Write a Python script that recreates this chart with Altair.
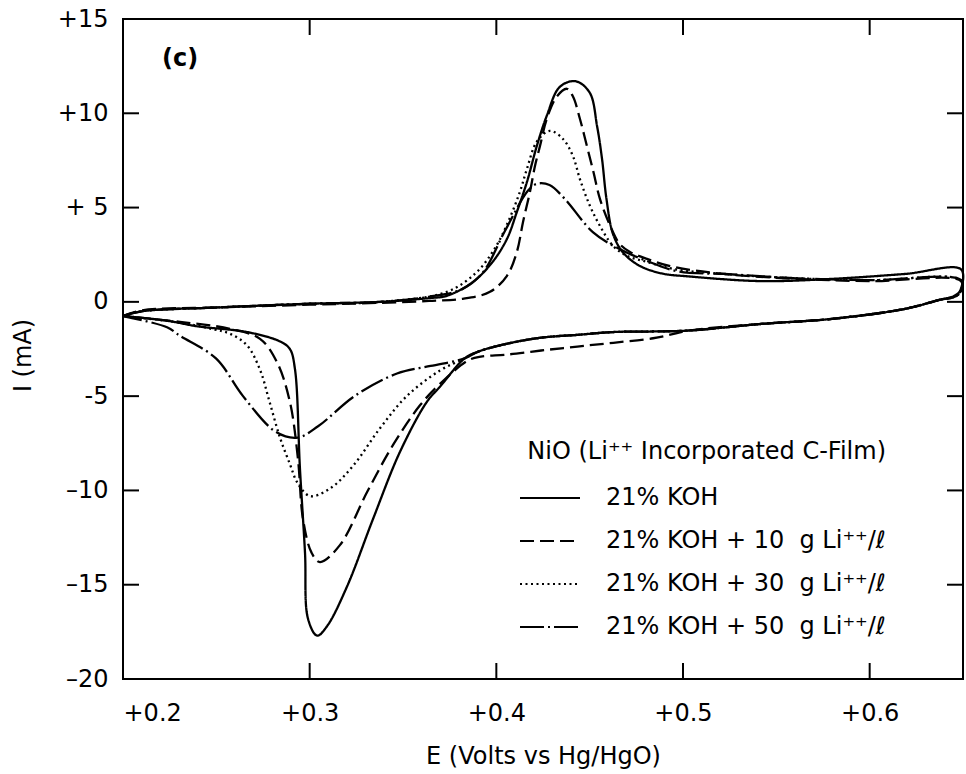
import altair as alt
import pandas as pd

NB = "\u00a0"
SERIES = [
    "21% KOH",
    "21% KOH + 10" + NB + NB + "g Li\u207a\u207a/\u2113",
    "21% KOH + 30" + NB + NB + "g Li\u207a\u207a/\u2113",
    "21% KOH + 50" + NB + NB + "g Li\u207a\u207a/\u2113",
]

# ---- 21% KOH (solid) ----
koh_up_E = [0.200, 0.210, 0.250, 0.300, 0.338, 0.364, 0.3735, 0.3875, 0.398, 0.4057, 0.411, 0.4164,
            0.4217, 0.427, 0.434, 0.4425, 0.450, 0.454, 0.4566, 0.459, 0.4625, 0.468, 0.477, 0.489,
            0.503, 0.542, 0.580, 0.619, 0.649]
koh_up_I = [-0.75, -0.5, -0.3, -0.1, 0.0, 0.2, 0.32, 1.06, 2.12, 3.34, 4.77, 6.36,
            8.27, 9.86, 11.4, 11.7, 11.1, 9.3, 7.6, 5.46, 3.6, 2.6, 1.9, 1.5,
            1.35, 1.1, 1.22, 1.48, 1.72]
koh_dn_E = [0.6485, 0.645, 0.638, 0.619, 0.580, 0.542, 0.503, 0.484, 0.4627, 0.4434, 0.424, 0.4053,
            0.390, 0.383, 0.3698, 0.3628, 0.3484, 0.334, 0.320, 0.3093, 0.304, 0.2991, 0.2975,
            0.2948, 0.2921, 0.2894, 0.2841, 0.2664, 0.240, 0.2236, 0.200]
koh_dn_I = [0.6, 0.3, 0.12, -0.37, -0.9, -1.17, -1.52, -1.57, -1.6, -1.75, -1.9, -2.23,
            -2.65, -3.0, -4.5, -5.3, -7.95, -11.5, -15.1, -17.2, -17.7, -16.8, -13.3,
            -8.85, -3.55, -2.5, -2.1, -1.6, -1.3, -1.0, -0.75]

# ---- + 10 g Li (dashed) ----
li10_up_E = [0.200, 0.210, 0.250, 0.300, 0.338, 0.364, 0.382, 0.3966, 0.4057, 0.411, 0.4143, 0.418,
             0.4207, 0.4234, 0.427, 0.4325, 0.4378, 0.441, 0.4448, 0.4485, 0.452, 0.4555, 0.461,
             0.466, 0.4716, 0.4807, 0.4946, 0.522, 0.561, 0.600, 0.649]
li10_up_I = [-0.75, -0.45, -0.3, -0.15, -0.05, 0.05, 0.16, 0.53, 1.38, 2.65, 4.24, 5.83,
             7.2, 8.27, 9.7, 10.9, 11.3, 10.9, 9.7, 8.27, 6.9, 5.46, 4.03,
             3.08, 2.65, 2.28, 1.86, 1.48, 1.22, 1.1, 1.1]
li10_dn_E = [0.6485, 0.645, 0.638, 0.619, 0.580, 0.542, 0.503, 0.495, 0.484, 0.4627, 0.4434, 0.424,
             0.4053, 0.3917, 0.385, 0.3698, 0.359, 0.3446, 0.3307, 0.3162, 0.3055, 0.301, 0.2964,
             0.2937, 0.2894, 0.2825, 0.2734, 0.2573, 0.2305, 0.200]
li10_dn_I = [0.5, 0.25, 0.12, -0.37, -0.9, -1.17, -1.52, -1.7, -1.93, -2.17, -2.37, -2.58,
             -2.8, -2.9, -3.1, -4.35, -5.5, -7.6, -10.1, -12.9, -13.8, -13.3, -11.5,
             -8.3, -5.3, -3.2, -1.96, -1.43, -1.06, -0.75]

# ---- + 30 g Li (dotted) ----
li30_up_E = [0.200, 0.210, 0.250, 0.300, 0.338, 0.3735, 0.3896, 0.400, 0.407, 0.4126, 0.4164, 0.4217,
             0.4287, 0.4357, 0.441, 0.4448, 0.4501, 0.4555, 0.4625, 0.470, 0.4807, 0.4946, 0.522,
             0.561, 0.600, 0.649]
li30_up_I = [-0.75, -0.5, -0.3, -0.1, 0.0, 0.53, 1.59, 2.97, 4.4, 5.83, 7.05, 8.5,
             9.07, 8.64, 7.74, 6.5, 5.1, 4.03, 2.97, 2.44, 2.12, 1.75, 1.48,
             1.25, 1.15, 1.15]
li30_dn_E = [0.6485, 0.645, 0.638, 0.619, 0.580, 0.542, 0.503, 0.484, 0.4627, 0.4434, 0.424, 0.4053,
             0.390, 0.383, 0.3698, 0.352, 0.3377, 0.3232, 0.3109, 0.3002, 0.2935, 0.2894, 0.2841,
             0.2785, 0.2734, 0.2664, 0.2575, 0.2482, 0.2305, 0.200]
li30_dn_I = [0.5, 0.25, 0.12, -0.37, -0.9, -1.17, -1.52, -1.57, -1.6, -1.75, -1.9, -2.23,
             -2.65, -3.0, -3.64, -5.0, -6.7, -8.7, -9.9, -10.3, -9.6, -8.6, -7.2,
             -5.3, -3.6, -2.3, -1.7, -1.45, -1.1, -0.75]

# ---- + 50 g Li (dash-dot) ----
li50_up_E = [0.200, 0.210, 0.250, 0.300, 0.338, 0.364, 0.382, 0.393, 0.4046, 0.417, 0.4216, 0.4285,
             0.4367, 0.4517, 0.466, 0.4807, 0.498, 0.522, 0.561, 0.600, 0.649]
li50_up_I = [-0.75, -0.5, -0.3, -0.1, 0.0, 0.27, 0.69, 1.59, 3.76, 5.9, 6.26, 6.2,
             5.46, 3.7, 2.8, 2.17, 1.6, 1.48, 1.25, 1.15, 1.15]
li50_dn_E = [0.6485, 0.645, 0.638, 0.619, 0.580, 0.542, 0.503, 0.484, 0.4627, 0.4434, 0.424, 0.4053,
             0.390, 0.383, 0.3648, 0.3468, 0.324, 0.3045, 0.2935, 0.282, 0.2643, 0.2498, 0.2305,
             0.2236, 0.200]
li50_dn_I = [0.5, 0.25, 0.12, -0.37, -0.9, -1.17, -1.52, -1.57, -1.6, -1.75, -1.9, -2.23,
             -2.65, -3.0, -3.4, -3.8, -5.0, -6.6, -7.2, -6.9, -5.0, -3.0, -1.8,
             -1.35, -0.75]

X_TICKS = [0.2, 0.3, 0.4, 0.5, 0.6]
Y_TICKS = [-20, -15, -10, -5, 0, 5, 10, 15]
X_INNER_TICKS = [0.3, 0.4, 0.5, 0.6]
Y_INNER_TICKS = [-15, -10, -5, 0, 5, 10]

curves = [
    (SERIES[0], koh_up_E + koh_dn_E, koh_up_I + koh_dn_I),
    (SERIES[1], li10_up_E + li10_dn_E, li10_up_I + li10_dn_I),
    (SERIES[2], li30_up_E + li30_dn_E, li30_up_I + li30_dn_I),
    (SERIES[3], li50_up_E + li50_dn_E, li50_up_I + li50_dn_I),
]
rows = []
for name, es, is_ in curves:
    for k, (e, i) in enumerate(zip(es, is_)):
        rows.append({"series": name, "idx": k, "E": e, "I": i})
df = pd.DataFrame(rows)

FONT = "DejaVu Sans"
FS = 24
W, H = 840, 660

xscale = alt.Scale(domain=[0.2, 0.65], nice=False, zero=False)
yscale = alt.Scale(domain=[-20, 15], nice=False, zero=False)

x_axis = alt.Axis(
    values=X_TICKS, labelExpr="'+' + format(datum.value, '.1f')",
    title="E (Volts vs Hg/HgO)", grid=False, domain=False, ticks=False,
    labelFont=FONT, labelFontSize=FS, labelColor="black", labelPadding=22,
    titleFont=FONT, titleFontSize=FS, titleFontWeight="normal", titleColor="black",
    titleX=420, titleY=84, titleBaseline="alphabetic", titleAnchor="middle",
)
y_axis = alt.Axis(
    values=Y_TICKS,
    labelExpr="datum.value == 5 ? '+ 5' : (datum.value > 0 ? '+' + datum.value : (datum.value == -5 ? '-5' : (datum.value < 0 ? '\u2013' + abs(datum.value) : '0')))",
    title="I (mA)", grid=False, domain=False, ticks=False,
    labelFont=FONT, labelFontSize=FS, labelColor="black", labelPadding=15,
    titleFont=FONT, titleFontSize=FS, titleFontWeight="normal", titleColor="black",
    titleX=-88, titleY=336, titleAnchor="middle",
)

X_ENC = dict(scale=xscale, axis=x_axis, title="E (Volts vs Hg/HgO)")
Y_ENC = dict(scale=yscale, axis=y_axis, title="I (mA)")

lines = alt.Chart(df).mark_line(
    color="black", strokeWidth=2.3, interpolate="catmull-rom", strokeCap="butt"
).encode(
    x=alt.X("E:Q", **X_ENC),
    y=alt.Y("I:Q", **Y_ENC),
    strokeDash=alt.StrokeDash(
        "series:N",
        scale=alt.Scale(domain=SERIES, range=[[1, 0], [14, 6], [2, 3.5], [24, 4, 2, 4]]),
        legend=alt.Legend(
            title="NiO (Li\u207a\u207a Incorporated C-Film)", orient="none",
            legendX=396, legendY=421, symbolType="stroke", symbolSize=3600,
            symbolStrokeWidth=2, symbolStrokeColor="black", labelOffset=25,
            labelFont=FONT, labelFontSize=FS, labelColor="black", labelLimit=500,
            titleFont=FONT, titleFontSize=FS, titleFontWeight="normal", titleColor="black",
            titleLimit=600, rowPadding=-1.5, titlePadding=3, titleAnchor="end",
        ),
    ),
    order=alt.Order("idx:Q"),
    detail="series:N",
)

ytick_df = pd.DataFrame({"I": Y_INNER_TICKS})
xtick_df = pd.DataFrame({"E": X_INNER_TICKS})
tick_style = dict(color="black", strokeWidth=2)

left_ticks = alt.Chart(ytick_df).mark_rule(**tick_style).encode(
    y=alt.Y("I:Q", **Y_ENC), x=alt.value(0), x2=alt.value(16))
right_ticks = alt.Chart(ytick_df).mark_rule(**tick_style).encode(
    y=alt.Y("I:Q", **Y_ENC), x=alt.value(W - 16), x2=alt.value(W))
bottom_ticks = alt.Chart(xtick_df).mark_rule(**tick_style).encode(
    x=alt.X("E:Q", **X_ENC), y=alt.value(H - 16), y2=alt.value(H))
top_ticks = alt.Chart(xtick_df).mark_rule(**tick_style).encode(
    x=alt.X("E:Q", **X_ENC), y=alt.value(0), y2=alt.value(16))

panel_label = alt.Chart(pd.DataFrame({"t": ["(c)"]})).mark_text(
    font=FONT, fontSize=24, fontWeight="bold", align="left", baseline="middle", color="black"
).encode(text="t:N", x=alt.value(39), y=alt.value(40))

chart = alt.layer(lines, left_ticks, right_ticks, bottom_ticks, top_ticks, panel_label).properties(
    width=W, height=H,
    autosize=alt.AutoSizeParams(type="none"),
    padding={"left": 123, "top": 19, "right": 3, "bottom": 95},
    background="white",
).configure_view(stroke="black", strokeWidth=2)

chart.save("out.html", embed_options={"renderer": "svg", "actions": False})
